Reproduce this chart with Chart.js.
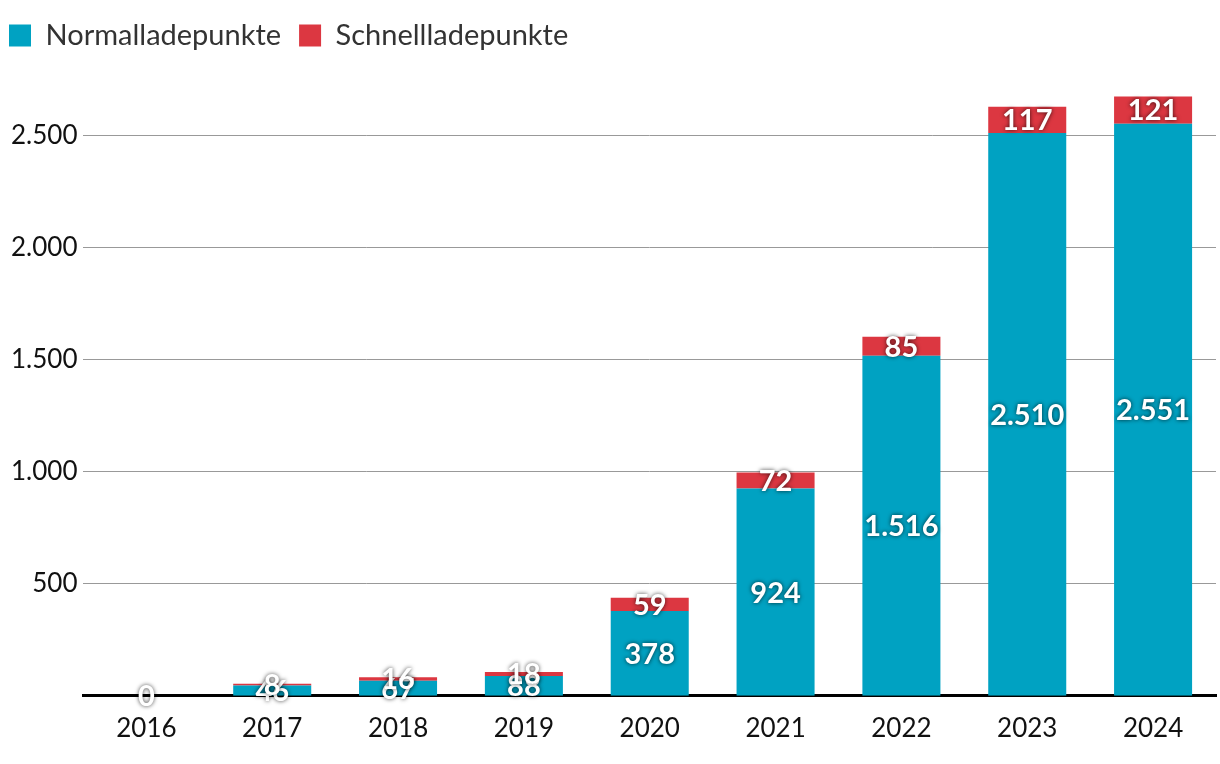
<!DOCTYPE html>
<html>
<head>
<meta charset="utf-8">
<script src="https://cdn.jsdelivr.net/npm/chart.js@4"></script>
<style>
  html, body { margin: 0; padding: 0; background: #fff; }
  #wrap { width: 1220px; height: 764px; }
</style>
</head>
<body>
<div id="wrap"><canvas id="chart"></canvas></div>
<script>
const years = ['2016', '2017', '2018', '2019', '2020', '2021', '2022', '2023', '2024']
const normal = [0, 46, 67, 88, 378, 924, 1516, 2510, 2551]
const fast = [0, 8, 16, 18, 59, 72, 85, 117, 121]
const yTicks = [500, 1000, 1500, 2000, 2500]

const fmt = new Intl.NumberFormat('de-DE')
const fontFamily = 'Lato, "Open Sans", sans-serif'

// values inside the bars, white with a dark glow
const barLabels = {
  id: 'barLabels',
  afterDatasetsDraw(chart) {
    const ctx = chart.ctx
    ctx.save()
    ctx.font = 'bold 29px ' + fontFamily
    ctx.textAlign = 'center'
    ctx.textBaseline = 'middle'
    ctx.fillStyle = '#fff'
    ctx.shadowColor = 'rgba(0,0,0,0.75)'
    ctx.shadowBlur = 4
    chart.data.datasets.forEach((ds, i) => {
      const meta = chart.getDatasetMeta(i)
      meta.data.forEach((bar, j) => {
        if (i === 1 && ds.data[j] === 0) return
        const y = (bar.y + bar.base) / 2
        ctx.fillText(fmt.format(ds.data[j]), bar.x, y + 1)
      })
    })
    ctx.restore()
  }
}

new Chart(document.getElementById('chart'), {
  type: 'bar',
  data: {
    labels: years,
    datasets: [
      { label: 'Normalladepunkte', data: normal, backgroundColor: '#00a2c2' },
      { label: 'Schnellladepunkte', data: fast, backgroundColor: '#dc3741' }
    ]
  },
  options: {
    responsive: true,
    maintainAspectRatio: false,
    animation: false,
    layout: { padding: { left: -9, right: 4, top: 3, bottom: 11 } },
    datasets: { bar: { categoryPercentage: 0.62, barPercentage: 1 } },
    plugins: {
      legend: {
        position: 'top',
        align: 'start',
        labels: {
          boxWidth: 22,
          boxHeight: 22,
          padding: 18,
          color: '#333',
          font: { family: fontFamily, size: 29 }
        }
      },
      tooltip: { enabled: false }
    },
    scales: {
      x: {
        stacked: true,
        grid: { display: false },
        border: { color: '#000', width: 3 },
        ticks: { color: '#111', font: { family: fontFamily, size: 26 }, padding: 9 }
      },
      y: {
        stacked: true,
        min: 0,
        max: 2835,
        afterBuildTicks(scale) {
          scale.ticks = yTicks.map(v => ({ value: v }))
        },
        afterFit(scale) {
          scale.width += 14
        },
        border: { display: false },
        grid: { color: '#999', lineWidth: 1, drawTicks: false },
        ticks: {
          color: '#111',
          padding: 6,
          font: { family: fontFamily, size: 26 },
          callback: v => fmt.format(v)
        }
      }
    }
  },
  plugins: [barLabels]
})
</script>
</body>
</html>
